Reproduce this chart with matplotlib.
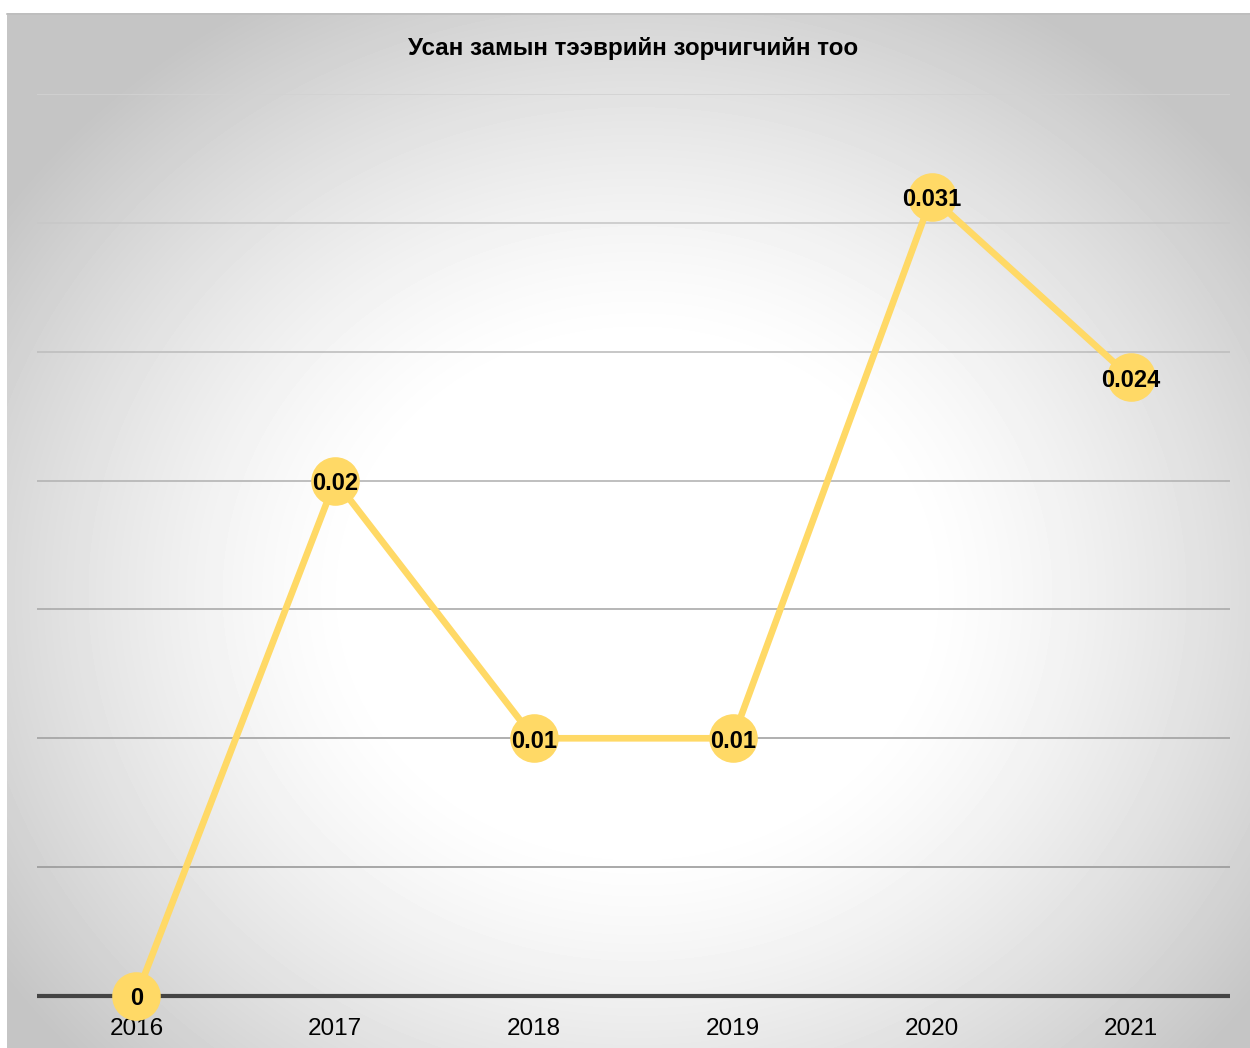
import numpy as np
import matplotlib
matplotlib.use("Agg")
import matplotlib.pyplot as plt

years = ['2016', '2017', '2018', '2019', '2020', '2021']
passengers = [0, 0.02, 0.01, 0.01, 0.031, 0.024]
labels = ['0', '0.02', '0.01', '0.01', '0.031', '0.024']

plt.rcParams['font.family'] = ['Liberation Sans', 'DejaVu Sans']

W, H = 1250, 1048
fig = plt.figure(figsize=(W / 100, H / 100), dpi=100, facecolor='white')

# radial gradient panel behind the chart
bg = fig.add_axes([7 / W, 0, 1 - 7 / W, 1 - 13 / H], zorder=0)
gx, gy = np.meshgrid(np.arange(W - 7), np.arange(H - 13))
cx, cy = 630, 580
d = np.sqrt(((gx - cx) / 700.0) ** 2 + ((gy - cy) / 620.0) ** 2)
t = np.clip((d - 0.4) / 0.7, 0, 1)
shade = 1 - 0.23 * t ** 1.3
bg.imshow(shade, cmap='gray', vmin=0, vmax=1, aspect='auto', interpolation='bilinear')
bg.set_axis_off()
fig.add_artist(plt.Line2D([7 / W, 1], [1 - 13.5 / H, 1 - 13.5 / H], color='#bdbdbd', lw=1.2))

ax = fig.add_axes([37 / W, 52 / H, 1193 / W, 902 / H], zorder=1)
ax.patch.set_alpha(0)
x = np.arange(len(years))

ax.set_xlim(-0.5, len(years) - 0.5)
ax.set_ylim(0, 0.035)
grid_vals = np.arange(0.005, 0.0351, 0.005)
grid_cols = ['#9a9a9a', '#a2a2a2', '#aaaaaa', '#b4b4b4', '#bebebe', '#c8c8c8', '#d2d2d2']
for v, c in zip(grid_vals, grid_cols):
    ax.axhline(v, color=c, lw=1.2, zorder=1)
ax.axhline(0, color='#444444', lw=3.0, zorder=2, clip_on=False, solid_capstyle='butt')

ax.plot(x, passengers, color='#FFD966', lw=4.8, marker='o', markersize=35,
        markeredgewidth=0, solid_capstyle='round', zorder=3, clip_on=False)
for xi, yi, lab in zip(x, passengers, labels):
    ax.annotate(lab, (xi, yi), xytext=(0, -2), textcoords='offset points',
                ha='center', va='center', fontsize=17,
                fontweight='bold', color='black', zorder=4)

ax.set_xticks(x)
ax.set_xticklabels(years, fontsize=17.5)
ax.tick_params(axis='x', length=0, pad=16)
ax.set_yticks([])
for s in ax.spines.values():
    s.set_visible(False)

fig.text(633 / W, 1 - 48 / H, 'Усан замын тээврийн зорчигчийн тоо', ha='center',
         va='center', fontsize=17.4, fontweight='bold')

fig.savefig('out.png', dpi=100, facecolor='white')
